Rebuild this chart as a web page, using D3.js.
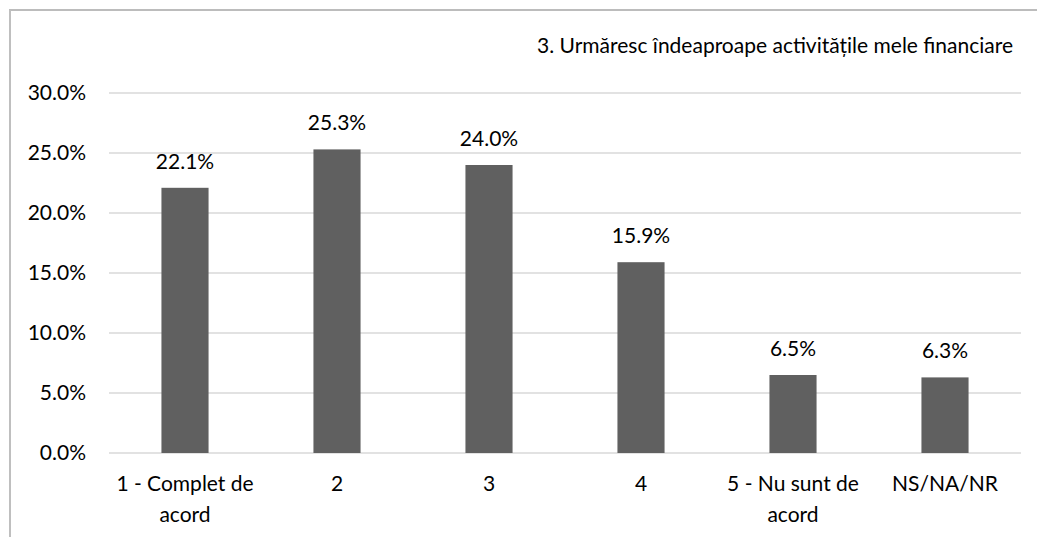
<!DOCTYPE html>
<html>
<head>
<meta charset="utf-8">
<script src="https://cdn.jsdelivr.net/npm/d3@7"></script>
<style>
  html, body { margin: 0; padding: 0; background: #fff; }
  svg { display: block; font-family: Lato, "Open Sans", sans-serif; }
</style>
</head>
<body>
<svg id="chart" width="1037" height="537"></svg>
<script>
// Survey answers: share of respondents per response option
const categories = [
  ["1 - Complet de", "acord"],
  ["2"],
  ["3"],
  ["4"],
  ["5 - Nu sunt de", "acord"],
  ["NS/NA/NR"]
];
const values = [22.1, 25.3, 24.0, 15.9, 6.5, 6.3];
const yTicks = [0, 5, 10, 15, 20, 25, 30];
const title = "3. Urmăresc îndeaproape activitățile mele financiare";

const svg = d3.select("#chart");
const W = 1037, H = 537;
const margin = { left: 109, right: 16, top: 93, bottom: 84 };
const fontSize = 21;

// chart frame (only top and left edges fall inside the view)
svg.append("line").attr("x1", 9).attr("x2", W).attr("y1", 10).attr("y2", 10)
  .attr("stroke", "#a6a6a6").attr("stroke-width", 1.5);
svg.append("line").attr("x1", 10).attr("x2", 10).attr("y1", 10).attr("y2", H)
  .attr("stroke", "#bfbfbf").attr("stroke-width", 2);

const x = d3.scaleBand()
  .domain(d3.range(categories.length))
  .range([margin.left, W - margin.right])
  .paddingInner(0.69).paddingOuter(0.345);

const y = d3.scaleLinear().domain([0, 30]).range([H - margin.bottom, margin.top]);

// gridlines
svg.append("g").selectAll("line").data(yTicks).join("line")
  .attr("x1", margin.left).attr("x2", W - margin.right)
  .attr("y1", d => y(d)).attr("y2", d => y(d))
  .attr("stroke", "#d9d9d9").attr("stroke-width", 1.5);

// y axis labels
const yAxis = d3.axisLeft(y).tickValues(yTicks).tickFormat(d => d.toFixed(1) + "%").tickSize(0).tickPadding(0);
const gy = svg.append("g").attr("transform", `translate(${margin.left - 23},0)`).call(yAxis);
gy.select(".domain").remove();
gy.selectAll("text").attr("font-size", fontSize).attr("fill", "#000").attr("font-family", "Lato, sans-serif");

// bars
svg.append("g").selectAll("rect").data(values).join("rect")
  .attr("x", (d, i) => x(i))
  .attr("width", x.bandwidth())
  .attr("y", d => y(d))
  .attr("height", d => y(0) - y(d))
  .attr("fill", "#606060");

// value labels
svg.append("g").selectAll("text").data(values).join("text")
  .attr("x", (d, i) => x(i) + x.bandwidth() / 2)
  .attr("y", d => y(d) - 19)
  .attr("text-anchor", "middle")
  .attr("font-size", fontSize)
  .attr("fill", "#000")
  .text(d => d.toFixed(1) + "%");

// category labels
const cat = svg.append("g").selectAll("text").data(categories).join("text")
  .attr("x", (d, i) => x(i) + x.bandwidth() / 2)
  .attr("y", H - margin.bottom + 38)
  .attr("text-anchor", "middle")
  .attr("font-size", fontSize)
  .attr("fill", "#000");
cat.selectAll("tspan").data(d => d).join("tspan")
  .attr("x", function () { return d3.select(this.parentNode).attr("x"); })
  .attr("dy", (d, i) => i === 0 ? 0 : 31)
  .text(d => d);

// chart title, right-aligned
svg.append("text")
  .attr("x", 1013).attr("y", 53)
  .attr("text-anchor", "end")
  .attr("font-size", fontSize)
  .attr("fill", "#000")
  .text(title);
</script>
</body>
</html>
